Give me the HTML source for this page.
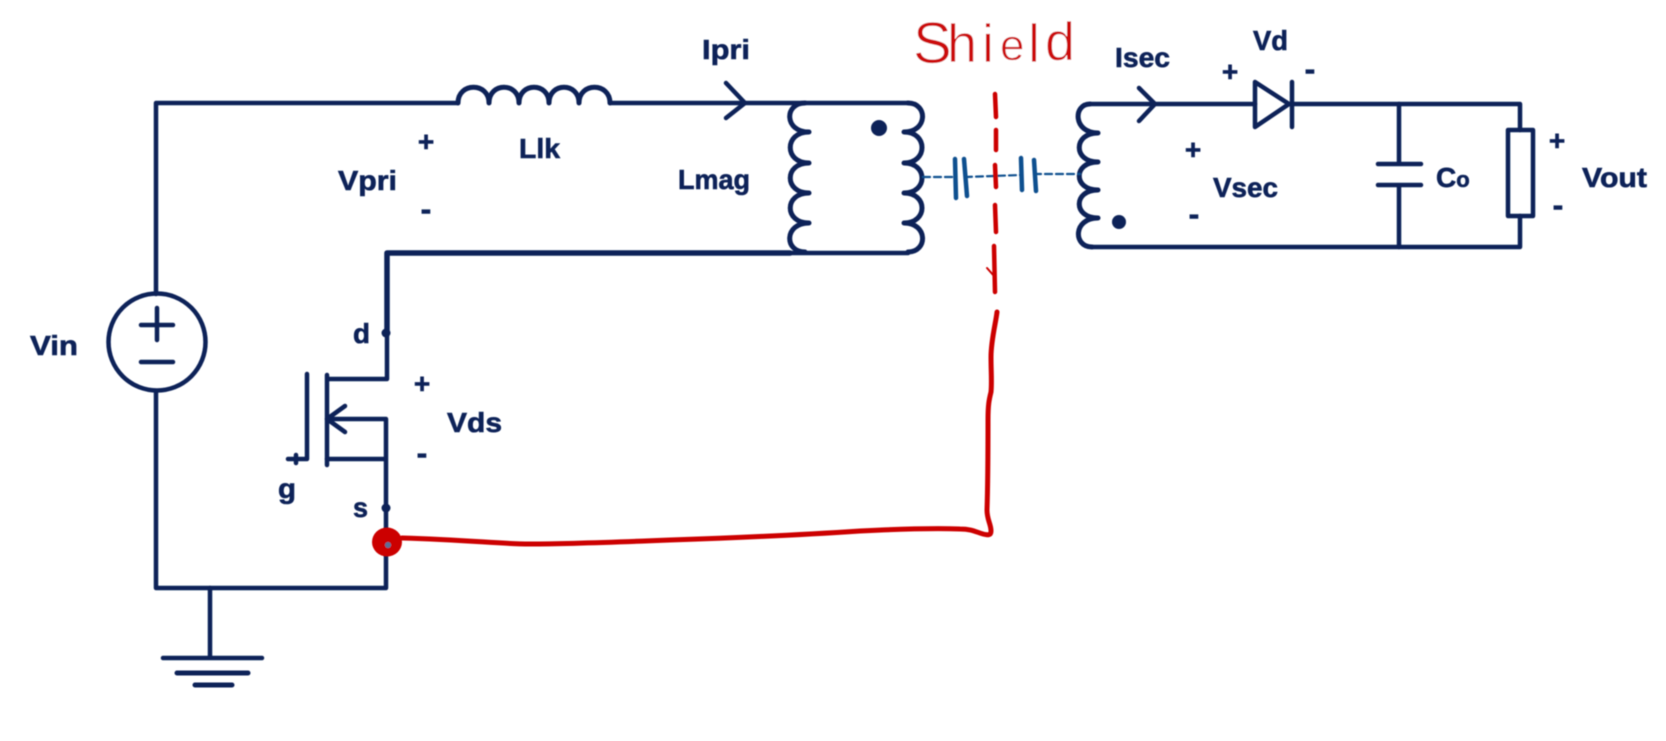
<!DOCTYPE html>
<html><head><meta charset="utf-8"><style>
html,body{margin:0;padding:0;background:#fff;width:1666px;height:741px;overflow:hidden}
svg{display:block}
text{font-family:"Liberation Sans",sans-serif;font-weight:700;fill:#0b2459;stroke:#0b2459;stroke-width:.6px;font-size:28px}
.s{text-anchor:middle}
.m{font-size:32px}
.sh{font-family:"Liberation Sans",sans-serif;font-weight:400;font-size:54px;fill:#cc0a0a;stroke:#fff;stroke-width:.7px}
</style></head><body>
<svg width="1666" height="741" viewBox="0 0 1666 741" xmlns="http://www.w3.org/2000/svg">
<defs><filter id="b" x="-5%" y="-5%" width="110%" height="110%"><feGaussianBlur stdDeviation="0.65"/></filter></defs>
<g filter="url(#b)">
<g fill="none" stroke="#0b2459" stroke-width="4.5" stroke-linecap="round" stroke-linejoin="round">
<!-- primary -->
<path d="M156 294V103H458"/>
<path d="M458 103C458 82 489 82 489 103C489 82 519 82 519 103C519 82 549 82 549 103C549 82 579 82 579 103C579 82 610 82 610 103" stroke-width="5"/>
<path d="M610 103H908"/>
<path d="M726 83L745 103L726 118"/>
<path d="M805 103C784 103 784 132 809 132C784 132 784 163 809 163C784 163 784 193 809 193C784 193 784 223 809 223C784 223 784 252 805 252" stroke-width="5"/>
<path d="M908 103C928 103 928 132 904 132C928 132 928 163 904 163C928 163 928 193 904 193C928 193 928 223 904 223C928 223 928 252 908 252" stroke-width="5"/>
<path d="M387 253H908"/>
<path d="M387 253H790M387 253V333" stroke-width="5.5"/>
<path d="M387 333V379H327M327 375V465M307 374V459H288M296 455V463"/>
<path d="M327 419H386V588H156V391M345 406L327 419L345 432M327 459H386"/>
<circle cx="157" cy="342" r="48.5"/>
<path d="M141 325H173M157 308V340M141 362H173"/>
<path d="M210 588V658M163 658H262" />
<path d="M177 673H248M195 685H232" stroke-width="5"/>
<!-- secondary -->
<path d="M1090 104C1073 104 1073 133 1098 133C1073 133 1073 162 1098 162C1073 162 1073 190 1098 190C1073 190 1073 218 1098 218C1073 218 1073 247 1092 247" stroke-width="5"/>
<path d="M1090 104H1255M1139 88L1155 104L1139 121"/>
<path d="M1255 82V127L1289 104ZM1292 82V127M1292 104H1520V130M1520 216V247H1092"/>
<rect x="1508" y="130" width="25" height="86"/>
<path d="M1399 104V164M1378 164H1421M1378 185H1421M1399 185V247"/>
</g>
<circle cx="386" cy="333" r="4.5" fill="#0b2459"/>
<circle cx="386" cy="508" r="4.5" fill="#0b2459"/>
<circle cx="879" cy="128" r="8" fill="#0b2459"/>
<circle cx="1119" cy="222" r="7" fill="#0b2459"/>
<!-- blue capacitors -->
<g fill="none" stroke="#114f8f" stroke-linecap="round">
<path d="M923 177H955M965 177L1021 175M1034 174H1080" stroke-width="2.2" stroke-dasharray="7 4"/>
<path d="M955 159L956 198M964 159L967 196M1021 158L1022 190M1034 160L1036 191" stroke-width="4.5"/>
</g>
<!-- labels -->
<text x="702" y="59" textLength="48" lengthAdjust="spacingAndGlyphs">Ipri</text>
<text x="519" y="158" textLength="41" lengthAdjust="spacingAndGlyphs">Llk</text>
<text x="678" y="189" textLength="72" lengthAdjust="spacingAndGlyphs">Lmag</text>
<text x="338" y="190" textLength="59" lengthAdjust="spacingAndGlyphs">Vpri</text>
<text x="30" y="355" textLength="48" lengthAdjust="spacingAndGlyphs">Vin</text>
<text x="447" y="432" textLength="55" lengthAdjust="spacingAndGlyphs">Vds</text>
<text x="353" y="343" textLength="17" lengthAdjust="spacingAndGlyphs">d</text>
<text x="353" y="517" textLength="15" lengthAdjust="spacingAndGlyphs">s</text>
<text x="278" y="498" textLength="18" lengthAdjust="spacingAndGlyphs">g</text>
<text x="1115" y="67" textLength="55" lengthAdjust="spacingAndGlyphs">Isec</text>
<text x="1253" y="50" textLength="35" lengthAdjust="spacingAndGlyphs">Vd</text>
<text x="1213" y="197" textLength="65" lengthAdjust="spacingAndGlyphs">Vsec</text>
<text x="1436" y="187">C<tspan style="font-size:22px">o</tspan></text>
<text x="1582" y="187" textLength="65" lengthAdjust="spacingAndGlyphs">Vout</text>
<text class="s" x="426" y="151">+</text>
<text class="s m" x="426" y="220">-</text>
<text class="s" x="422" y="393">+</text>
<text class="s m" x="422" y="464">-</text>
<text class="s" x="1230" y="81">+</text>
<text class="s m" x="1310" y="80">-</text>
<text class="s" x="1193" y="159">+</text>
<text class="s m" x="1194" y="225">-</text>
<text class="s" x="1557" y="150">+</text>
<text class="s m" x="1558" y="216">-</text>
</g>
<!-- red annotations -->
<g filter="url(#b)">
<text class="sh"><tspan x="913" y="63" style="font-size:58px">S</tspan><tspan x="947" y="62">h</tspan><tspan x="982" y="62">i</tspan><tspan x="1000" y="60" style="font-size:44px">e</tspan><tspan x="1028" y="62">l</tspan><tspan x="1045" y="60">d</tspan></text>
<g fill="none" stroke="#cc0000" stroke-linecap="round" stroke-linejoin="round">
<path d="M995 94L996 117M996 130L996 150M995 165L996 187M995 205L996 232M994 246L995 292" stroke-width="4.5"/>
<path d="M987 268L994 276" stroke-width="2"/>
<path d="M997 312C996 322 991 340 991 357C991 372 992 382 991 392C989 400 988 405 988 420C988 450 988 480 987 510C987 520 991 524 991 531C991 536 987 535 983 534C976 532 972 529 960 529C930 528 900 529 860 531C800 535 730 538 670 540C620 542 570 544 530 544C500 544 470 540 402 538" stroke-width="5"/>
</g>
<ellipse cx="387" cy="542" rx="15" ry="14.5" fill="#cc0000"/>
<circle cx="388" cy="545" r="3" fill="#5d6f96"/>
</g>
</svg>
</body></html>
